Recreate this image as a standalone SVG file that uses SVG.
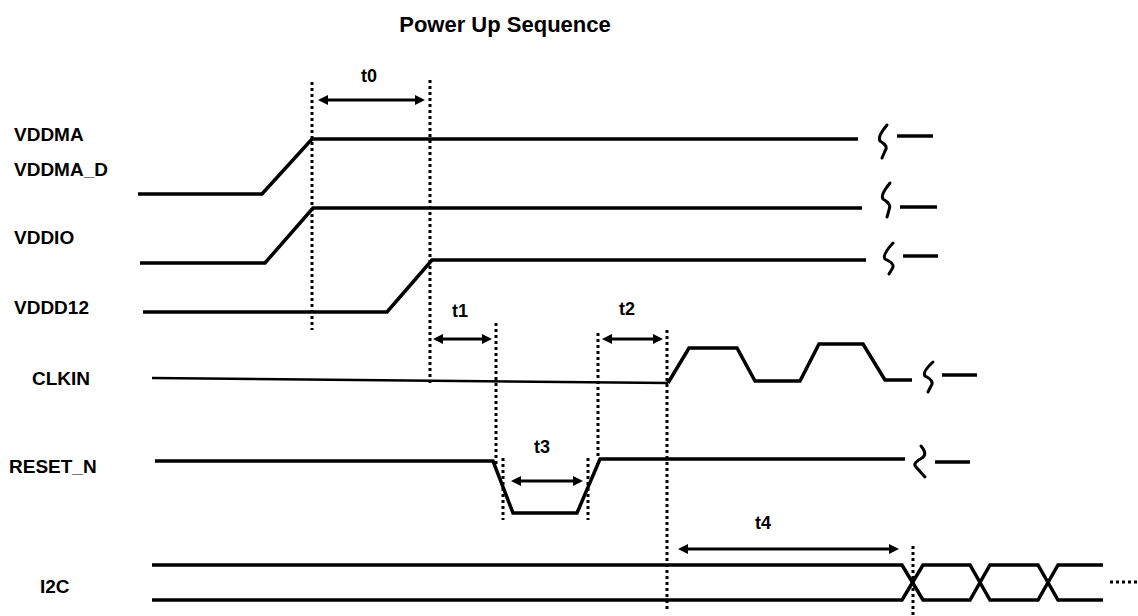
<svg xmlns="http://www.w3.org/2000/svg" width="1138" height="616" viewBox="0 0 1138 616">
<defs>
<marker id="ah" viewBox="0 0 10 10" refX="3" refY="5" markerWidth="11" markerHeight="10" markerUnits="userSpaceOnUse" orient="auto-start-reverse">
<path d="M0,0 L10,5 L0,10 z" fill="#000"/>
</marker>
</defs>
<style>
.sig{fill:none;stroke:#000;stroke-width:3.5;stroke-linejoin:miter;}
.thin{fill:none;stroke:#000;stroke-width:2.5;}
.brk{fill:none;stroke:#000;stroke-width:3;stroke-linecap:round;stroke-linejoin:round;}
.dot{fill:none;stroke:#000;stroke-width:3;stroke-dasharray:3 3;}
.arr{fill:none;stroke:#000;stroke-width:3;marker-start:url(#ah);marker-end:url(#ah);}
.lbl{font-family:"Liberation Sans",Arial,sans-serif;font-weight:bold;font-size:19px;fill:#000;}
.tl{font-family:"Liberation Sans",Arial,sans-serif;font-weight:bold;font-size:18px;fill:#000;text-anchor:middle;}
.title{font-family:"Liberation Sans",Arial,sans-serif;font-weight:bold;font-size:22px;fill:#000;text-anchor:middle;}
</style>
<rect width="1138" height="616" fill="#fff"/>
<text class="title" x="505" y="32">Power Up Sequence</text>

<g id="VDDMA">
<text class="lbl" x="14" y="141">VDDMA</text>
<text class="lbl" x="14" y="176">VDDMA_D</text>
<path class="sig" d="M138,194 L262,194 L312,139 L858,139"/>
<path class="brk" d="M887,125 Q877,137 880,141 Q889,146 885,151 L882,158"/>
<line class="sig" x1="897" y1="136" x2="933" y2="136"/>
</g>

<g id="VDDIO">
<text class="lbl" x="14" y="244">VDDIO</text>
<path class="sig" d="M140,263 L265,263 L313,208 L862,208"/>
<path class="brk" d="M890,183 Q880,195 883,199 Q892,204 889,210 L887,217"/>
<line class="sig" x1="900" y1="207" x2="937" y2="207"/>
</g>

<g id="VDDD12">
<text class="lbl" x="14" y="314">VDDD12</text>
<path class="sig" d="M143,312 L387,312 L432,260 L866,260"/>
<path class="brk" d="M893,243 Q882,255 885,259 Q896,264 892,269 L889,274"/>
<line class="sig" x1="903" y1="256" x2="938" y2="256"/>
</g>

<g id="CLKIN">
<text class="lbl" x="32" y="385">CLKIN</text>
<path class="thin" d="M152,378 L668,383"/>
<path class="sig" d="M668,383 L689,348 L737,348 L755,381 L800,381 L819,344 L863,344 L885,380 L912,380"/>
<path class="brk" d="M933,362 Q922,372 925,376 Q935,381 931,386 L928,392"/>
<line class="sig" x1="942" y1="375" x2="977" y2="375"/>
</g>

<g id="RESET_N">
<text class="lbl" x="9" y="473">RESET_N</text>
<path class="sig" d="M155,461 L493,461 L513,513 L577,513 L600,459 L905,459"/>
<path class="brk" d="M921,446 Q928,454 922,458 Q912,463 916,467 L925,477"/>
<line class="sig" x1="935" y1="462" x2="970" y2="462"/>
</g>

<g id="I2C">
<text class="lbl" x="40" y="593">I2C</text>
<path class="sig" d="M152,565 L902,565 L923,600 L970,600 L990,565 L1038,565 L1058,600 L1103,600"/>
<path class="sig" d="M152,600 L902,600 L923,565 L970,565 L990,600 L1038,600 L1058,565 L1103,565"/>
<line class="dot" x1="1110" y1="582" x2="1137" y2="582"/>
</g>

<g id="connectors">
<line class="dot" x1="312" y1="82" x2="312" y2="330"/>
<line class="dot" x1="430" y1="80" x2="430" y2="385"/>
<line class="dot" x1="496" y1="323" x2="496" y2="464"/>
<line class="dot" x1="503" y1="458" x2="503" y2="520"/>
<line class="dot" x1="588" y1="458" x2="588" y2="520"/>
<line class="dot" x1="598" y1="333" x2="598" y2="458"/>
<line class="dot" x1="667" y1="330" x2="667" y2="609"/>
<line class="dot" x1="913" y1="546" x2="913" y2="615"/>
<line class="arr" x1="325" y1="100" x2="418" y2="100"/>
<line class="arr" x1="440" y1="339" x2="485" y2="339"/>
<line class="arr" x1="609" y1="339" x2="656" y2="339"/>
<line class="arr" x1="518" y1="481" x2="576" y2="481"/>
<line class="arr" x1="685" y1="549" x2="892" y2="549"/>
<text class="tl" x="369" y="82">t0</text>
<text class="tl" x="460" y="317">t1</text>
<text class="tl" x="627" y="315">t2</text>
<text class="tl" x="542" y="453">t3</text>
<text class="tl" x="763" y="529">t4</text>
</g>
</svg>
